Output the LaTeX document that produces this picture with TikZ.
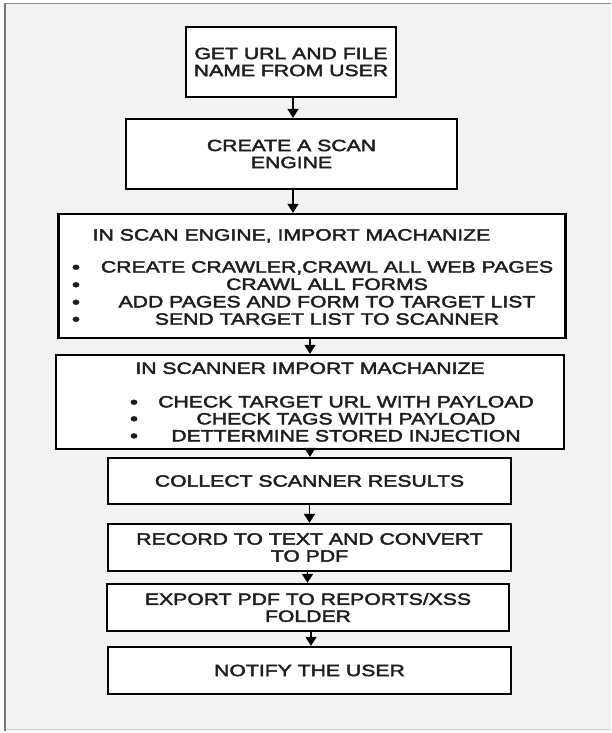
\documentclass[tikz,border=0pt]{standalone}
\usepackage{fontspec}
\setmainfont{Liberation Sans}[FakeStretch=1.3, FakeBold=2.5]
\usetikzlibrary{arrows.meta}
\definecolor{panelbg}{RGB}{243,243,243}
\definecolor{paneledge}{RGB}{120,120,120}
\definecolor{paneltop}{RGB}{140,140,140}
\definecolor{panelbottom}{RGB}{210,210,210}
\definecolor{ink}{RGB}{30,30,30}
\newcommand{\flowfont}{\fontsize{16.3}{17}\selectfont}
\newcommand{\listfont}{\fontsize{16.3}{17.4}\selectfont}
\newcommand{\dotfont}{\fontsize{18}{18}\selectfont}
\tikzset{
  stepbox/.style={draw=black, line width=2.3pt, fill=white, inner sep=0pt,
    align=center, font=\flowfont, text=ink},
  linetext/.style={inner sep=0pt, font=\flowfont, text=ink, anchor=base},
  dottext/.style={inner sep=0pt, font=\dotfont, text=ink, anchor=base},
  flow/.style={line width=1.6pt, -{Triangle[width=11pt,length=9pt]}}
}
\begin{document}
\begin{tikzpicture}[x=1pt, y=-1pt]
  \useasboundingbox (0,0) rectangle (611,733);
  % panel behind the flow chart
  \fill[panelbg] (4,3) rectangle (611,731);
  \draw[paneltop, line width=1.6pt] (4,3.6) -- (611,3.6);
  \draw[panelbottom, line width=1pt] (4,729.5) -- (611,729.5);
  \draw[paneledge, line width=2.2pt] (5.2,3) -- (5.2,731);

  % steps
  \node[stepbox, minimum width=210pt, minimum height=70pt] (getinput) at (291,62)
    {GET URL AND FILE\\NAME FROM USER};
  \node[stepbox, minimum width=331pt, minimum height=70pt] (engine) at (291.5,154)
    {CREATE A SCAN\\ENGINE};
  \node[stepbox, minimum width=507pt, minimum height=124pt] (crawl) at (312,276) {};
  \node[stepbox, minimum width=508pt, minimum height=94pt] (scanner) at (310,402) {};
  \node[stepbox, minimum width=403pt, minimum height=46pt] (collect) at (309.5,481)
    {COLLECT SCANNER RESULTS};
  \node[stepbox, minimum width=403pt, minimum height=47pt] (record) at (309.5,547.5)
    {RECORD TO TEXT AND CONVERT\\TO PDF};
  \node[stepbox, minimum width=402pt, minimum height=47pt] (export) at (308,607.5)
    {EXPORT PDF TO REPORTS/XSS\\FOLDER};
  \node[stepbox, minimum width=403pt, minimum height=47pt] (notify) at (309.5,670.5)
    {NOTIFY THE USER};

  % contents of the scan engine step
  \node[linetext] (crawltitle) at (291.5,240.5) {IN SCAN ENGINE, IMPORT MACHANIZE};
  \node[inner sep=0pt, align=center, font=\listfont, text=ink] (crawllist) at (327,293)
    {CREATE CRAWLER,CRAWL ALL WEB PAGES\\CRAWL ALL FORMS\\
     ADD PAGES AND FORM TO TARGET LIST\\SEND TARGET LIST TO SCANNER};
  \foreach \yy [count=\i] in {267,284.6,302,319}
    \node[dottext] (crawldot\i) at (76,\yy+6.2) {•};

  % contents of the scanner step
  \node[linetext] (scantitle) at (310,373.9) {IN SCANNER IMPORT MACHANIZE};
  \node[inner sep=0pt, align=center, font=\flowfont, text=ink] (scanlist) at (346,418.8)
    {CHECK TARGET URL WITH PAYLOAD\\CHECK TAGS WITH PAYLOAD\\DETTERMINE STORED INJECTION};
  \foreach \yy [count=\i] in {402,418.6,435.7}
    \node[dottext] (scandot\i) at (134,\yy+6.2) {•};

  % connectors
  \draw[flow] ([xshift=2pt]getinput.south) -- ([xshift=2pt]getinput.south |- engine.north);
  \draw[flow] ([xshift=1.5pt]engine.south) -- ([xshift=1.5pt]engine.south |- crawl.north);
  \draw[flow] (scanner.north |- crawl.south) -- (scanner.north);
  \draw[flow] (scanner.south) -- (scanner.south |- collect.north);
  \draw[flow] (collect.south) -- (record.north);
  \draw[flow] ([xshift=-2pt]record.south) -- ([xshift=-2pt]record.south |- export.north);
  \draw[flow] ([xshift=3pt]export.south) -- ([xshift=3pt]export.south |- notify.north);
\end{tikzpicture}
\end{document}
